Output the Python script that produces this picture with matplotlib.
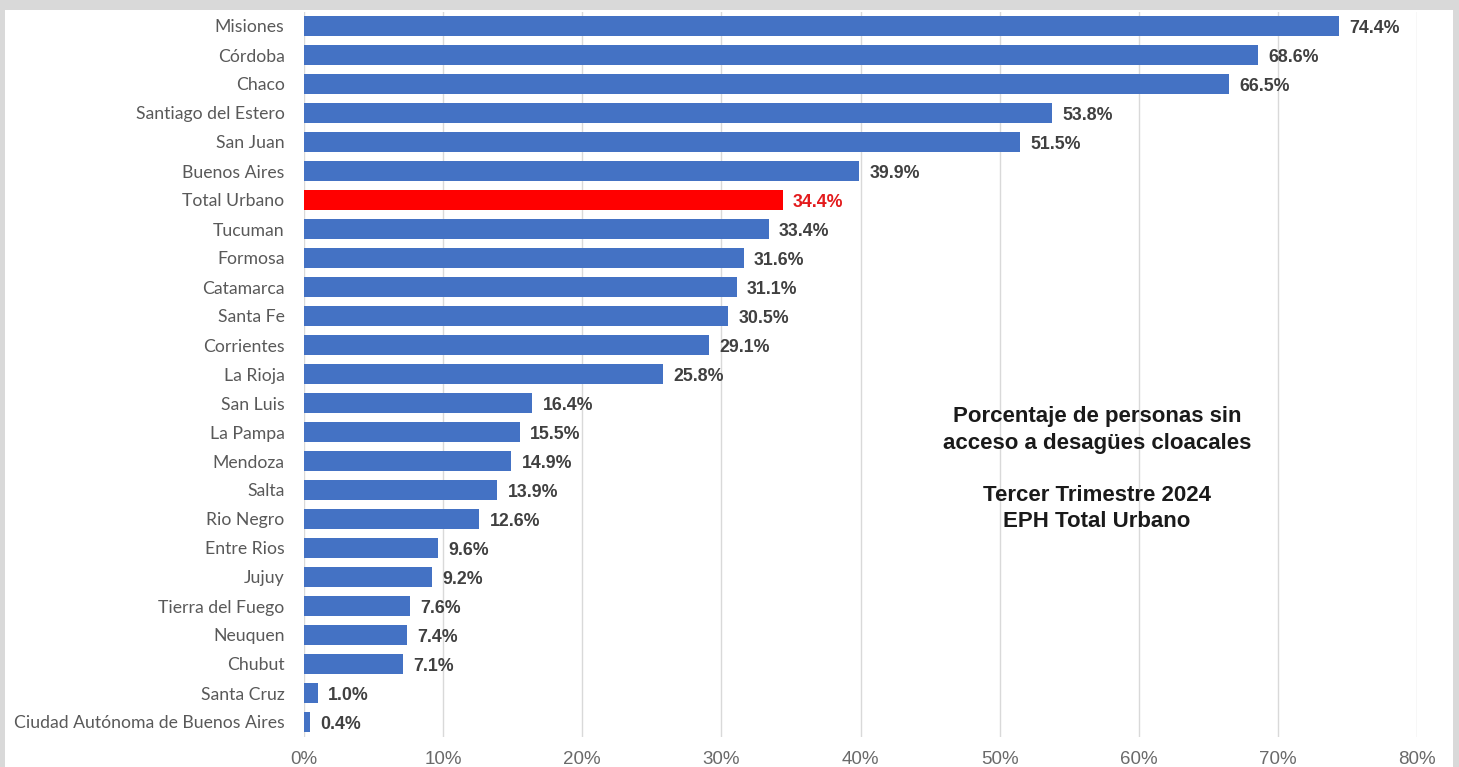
import matplotlib
matplotlib.use("Agg")
import matplotlib.pyplot as plt
from matplotlib.patches import Rectangle

# data, top to bottom as in the chart
provincias = ["Misiones", "Córdoba", "Chaco", "Santiago del Estero", "San Juan",
              "Buenos Aires", "Total Urbano", "Tucuman", "Formosa", "Catamarca",
              "Santa Fe", "Corrientes", "La Rioja", "San Luis", "La Pampa",
              "Mendoza", "Salta", "Rio Negro", "Entre Rios", "Jujuy",
              "Tierra del Fuego", "Neuquen", "Chubut", "Santa Cruz",
              "Ciudad Autónoma de Buenos Aires"]
valores = [74.4, 68.6, 66.5, 53.8, 51.5, 39.9, 34.4, 33.4, 31.6, 31.1,
           30.5, 29.1, 25.8, 16.4, 15.5, 14.9, 13.9, 12.6, 9.6, 9.2,
           7.6, 7.4, 7.1, 1.0, 0.4]
destacado = "Total Urbano"
xticks = [0, 10, 20, 30, 40, 50, 60, 70, 80]

AZUL = "#4472C4"
ROJO = "#FF0000"

W, H = 1459, 767
fig = plt.figure(figsize=(W / 100, H / 100), dpi=100)
fig.patch.set_facecolor("#d9d9d9")
# white panel inside the gray frame
fig.patches.append(Rectangle((5 / W, 0), (1453 - 5) / W, (H - 10) / H,
                             transform=fig.transFigure, facecolor="white",
                             edgecolor="none", zorder=-5))

ax = fig.add_axes([304 / W, 30.5 / H, (1417 - 304) / W, (755.5 - 30.5) / H])
ax.set_facecolor("none")

n = len(provincias)
ypos = list(range(n))
colores = [ROJO if p == destacado else AZUL for p in provincias]
ax.barh(ypos, valores, height=0.69, color=colores, edgecolor="none", zorder=2)

for y, v, p in zip(ypos, valores, provincias):
    c = "#e31a1c" if p == destacado else "#404040"
    ax.annotate(f"{v:.1f}%", (v, y), xytext=(7.5, -1.5), textcoords="offset points",
                va="center", ha="left", fontsize=12.8, fontweight="bold",
                color=c, family="Liberation Sans")

ax.set_ylim(n - 0.5, -0.5)
ax.set_xlim(0, 80)
ax.set_yticks(ypos)
ax.set_yticklabels(provincias, family="Lato", fontsize=12.7, color="#595959")
ax.set_xticks(xticks)
ax.set_xticklabels([f"{t}%" for t in xticks], family="Liberation Sans",
                   fontsize=13.5, color="#6a6a6a")
ax.tick_params(axis="y", length=0, pad=14)
ax.tick_params(axis="x", length=0, pad=10.5)
ax.grid(axis="x", color="#d9d9d9", linewidth=1, zorder=0)
for s in ax.spines.values():
    s.set_visible(False)

bloques = [("Porcentaje de personas sin\nacceso a desagües cloacales", 430),
           ("Tercer Trimestre 2024\nEPH Total Urbano", 508.5)]
for txt, yc in bloques:
    fig.text(1097 / W, (H - yc) / H, txt, ha="center", va="center",
             fontsize=16, fontweight="bold", color="#1a1a1a",
             family="Liberation Sans", linespacing=1.37)

fig.savefig("out.png", dpi=100, facecolor=fig.get_facecolor())
